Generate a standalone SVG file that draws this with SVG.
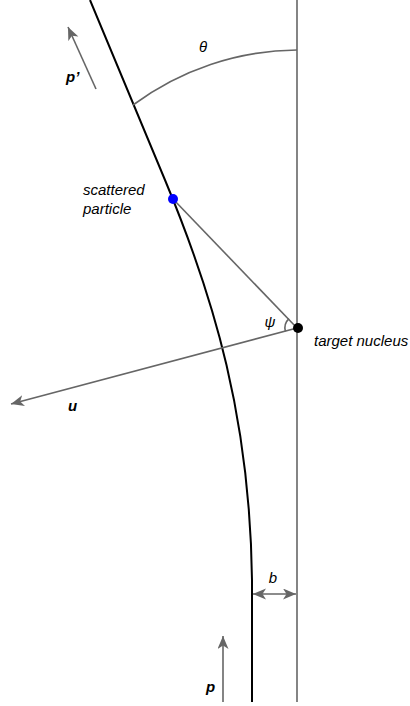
<svg xmlns="http://www.w3.org/2000/svg" width="410" height="706" viewBox="0 0 410 706">
  <style>
    .g { stroke: #666666; stroke-width: 1.6; fill: none; }
    .traj { stroke: #000000; stroke-width: 2; fill: none; }
    .t { font-family: "Liberation Sans", Arial, sans-serif; font-size: 15px; font-style: italic; fill: #000000; }
    .b { font-weight: bold; }
  </style>
  <defs>
    <marker id="ah" markerWidth="14" markerHeight="12" refX="13" refY="5.5" orient="auto-start-reverse" markerUnits="userSpaceOnUse">
      <path d="M0,0 L13,5.5 L0,11 L3.5,5.5 Z" fill="#666666"/>
    </marker>
  </defs>

  <g id="axis">
    <line class="g" x1="297" y1="0" x2="297" y2="702"/>
  </g>

  <g id="trajectory">
    <path class="traj" d="M90,0 L165,180 C215,300 250,420 252,580 L252,702"/>
  </g>

  <g id="connectors">
    <line id="radius" class="g" x1="173" y1="199" x2="297" y2="328"/>
    <line id="u-arrow" class="g" x1="297" y1="328" x2="11" y2="404" marker-end="url(#ah)"/>
    <line id="pprime-arrow" class="g" x1="96" y1="89" x2="68" y2="27" marker-end="url(#ah)"/>
    <line id="p-arrow" class="g" x1="223" y1="702" x2="223" y2="636" marker-end="url(#ah)"/>
    <line id="b-arrow" class="g" x1="253" y1="594" x2="296" y2="594" marker-start="url(#ah)" marker-end="url(#ah)"/>
    <path id="theta-arc" class="g" d="M297,50 A278,278 0 0 0 133,105"/>
    <path id="psi-arc" class="g" d="M289,318.6 A13,13 0 0 0 285.4,331.4"/>
  </g>

  <g id="particle">
    <circle cx="173" cy="199" r="5" fill="#0000ff"/>
    <text class="t" x="83" y="195">scattered</text>
    <text class="t" x="83" y="214">particle</text>
  </g>

  <g id="nucleus">
    <circle cx="298" cy="328" r="5" fill="#000000"/>
    <text class="t" x="314" y="346">target nucleus</text>
  </g>

  <g id="labels">
    <text class="t" x="203" y="52" text-anchor="middle" font-size="14">θ</text>
    <text class="t" x="270" y="327" text-anchor="middle" font-size="14">ψ</text>
    <text class="t b" x="66" y="82">p’</text>
    <text class="t b" x="68" y="411">u</text>
    <text class="t" x="273" y="583" text-anchor="middle">b</text>
    <text class="t b" x="206" y="692">p</text>
  </g>
</svg>
